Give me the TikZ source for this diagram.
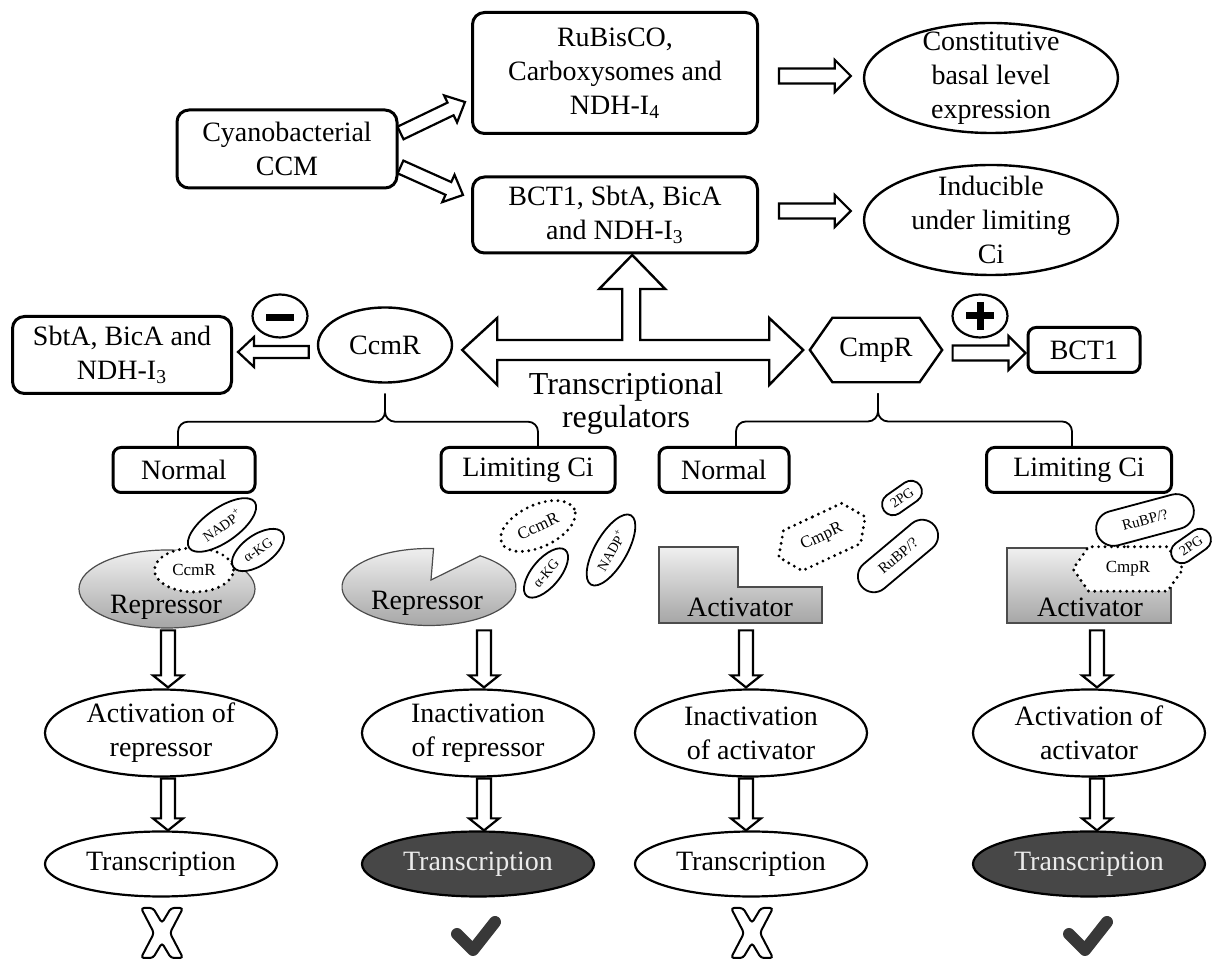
\documentclass[tikz,border=0pt]{standalone}
\usepackage{fontspec}
\setmainfont{Liberation Serif}
\usetikzlibrary{shapes.geometric, shapes.misc, shapes.symbols, calc, positioning}

\newcommand{\txtfont}{\fontsize{14}{17}\selectfont}
\newcommand{\regfont}{\fontsize{16}{16.5}\selectfont}
\newcommand{\molfont}{\fontsize{8.5}{9}\selectfont}
\newcommand{\tagfont}{\fontsize{7}{7.5}\selectfont}

% hollow block arrow: from, to, half shaft, half head, head length
\newcommand{\fatarrow}[5]{%
  \draw[fatarr] let \p1=(#1), \p2=(#2), \n1={atan2(\y2-\y1,\x2-\x1)}, \n2={veclen(\x2-\x1,\y2-\y1)} in
    [shift={(\p1)}, rotate=\n1] (0pt,-#3) -- (\n2-#5,-#3) -- (\n2-#5,-#4) -- (\n2,0pt)
    -- (\n2-#5,#4) -- (\n2-#5,#3) -- (0pt,#3) -- cycle;}

\begin{document}
\begin{tikzpicture}[
    x=0.5pt, y=-0.5pt,
    every node/.style={font=\txtfont, inner sep=2pt},
    box/.style={draw, rounded corners=6pt, line width=1.5pt, align=center},
    smallbox/.style={box, rounded corners=4pt, minimum height=22.5pt},
    oval/.style={draw, ellipse, line width=1.2pt, align=center, inner sep=0pt},
    fatarr/.style={draw, fill=white, line width=1.1pt, line join=miter},
    brace/.style={draw, line width=0.9pt, rounded corners=5pt},
    hexa/.style={draw, signal, signal to=west and east, signal pointer angle=110},
    dotline/.style={draw, fill=white, line width=1.6pt, dash pattern=on 0pt off 3.2pt, line cap=round},
    tag/.style={draw, fill=white, line width=0.9pt, inner sep=0pt, font=\tagfont},
    greyfill/.style={draw=black!70, line width=0.6pt, top color=black!6, bottom color=black!35},
    result/.style={oval, line width=1.1pt, minimum width=116pt, minimum height=43.5pt},
    trans/.style={oval, line width=1.1pt, minimum width=116pt, minimum height=32.5pt},
    transon/.style={trans, fill=black!72, text=black!8},
    nomark/.style={draw, fill=white, line width=1pt, rounded corners=1.5pt},
    yesmark/.style={draw=black!78, line width=6pt, line cap=round, line join=round}
]
\useasboundingbox (0,0) rectangle (1217,961);

% top part
\node[box, minimum width=110pt, minimum height=39pt] (ccm) at (287,149) {Cyanobacterial\\CCM};
\node[box, minimum width=142.5pt, minimum height=60.5pt] (rub) at (615,73) {RuBisCO,\\Carboxysomes and\\NDH-I\textsubscript{4}};
\node[box, minimum width=142.5pt, minimum height=38pt] (bct) at (615,215) {BCT1, SbtA, BicA\\and NDH-I\textsubscript{3}};
\node[oval, inner sep=-5pt, minimum width=127pt, minimum height=55pt] (cons) at (991,78) {Constitutive\\basal level\\expression};
\node[oval, inner sep=-5pt, minimum width=127pt, minimum height=55pt] (indu) at (991,220) {Inducible\\under limiting\\Ci};

\fatarrow{$(ccm.east)+(2,-16)$}{$(rub.south west)+(-6,-33)$}{3.5pt}{7.5pt}{8pt}
\fatarrow{$(ccm.east)+(2,18)$}{$(bct.west)+(-8,-20)$}{3.5pt}{7.5pt}{8pt}
\fatarrow{$(rub.east)+(20,3)$}{$(cons.west)+(-12,-2)$}{3.75pt}{8pt}{8pt}
\fatarrow{$(bct.east)+(20,-4)$}{$(indu.west)+(-12,-9)$}{3.75pt}{8pt}{8pt}

% regulators
\node[oval, minimum width=67pt, minimum height=37.5pt] (ccmr) at (385,345) {CcmR};
\node[hexa, line width=1.2pt, inner xsep=3.5pt, inner ysep=10pt] (cmpr) at (876,350) {CmpR};
\node[box, minimum width=109.5pt, minimum height=38.5pt] (sbta) at (122,355) {SbtA, BicA and\\NDH-I\textsubscript{3}};
\node[smallbox, minimum width=56pt] (bcta) at (1084,350) {BCT1};
\node[draw, ellipse, line width=1.1pt, minimum width=27.5pt, minimum height=21.5pt] (minus) at (280,316) {};
\node[draw, ellipse, line width=1.1pt, minimum width=27.5pt, minimum height=21.5pt] (plus) at (980,316) {};
\draw[line width=3.5pt] ($(minus)+(-14,2)$) -- ($(minus)+(14,2)$);
\draw[line width=3.5pt] ($(plus)+(-14,0)$) -- ($(plus)+(14,0)$)
  ($(plus)+(0,-14)$) -- ($(plus)+(0,14)$);
\node[align=center, font=\regfont] (treg) at (626,403) {Transcriptional\\regulators};

\fatarrow{$(ccmr.west)+(-8,7)$}{$(sbta.east)+(5,-3)$}{3pt}{7.5pt}{8pt}
\fatarrow{$(cmpr.east)+(9,3)$}{$(bcta.west)+(-1,3)$}{3.75pt}{8.5pt}{8.5pt}

\coordinate (tl) at ($(ccmr.east)+(9,5)$);
\draw[fatarr, line width=1.2pt] (tl) -- ++(35,-32) -- ++(0,22) -- ++(125,0) -- ++(0,-51) -- ++(-23,0)
  -- ++(33,-34) -- ++(33,34) -- ++(-25,0) -- ++(0,51) -- ++(129,0) -- ++(0,-22) -- ++(34,32)
  -- ++(-34,35) -- ++(0,-25) -- ++(-272,0) -- ++(0,25) -- cycle;

% conditions
\node[smallbox, minimum width=71pt] (norm1) at (184,470) {Normal};
\node[smallbox, minimum width=87pt] (lim1) at (528,470) {Limiting Ci};
\node[smallbox, minimum width=65pt] (norm2) at (724,470) {Normal};
\node[smallbox, minimum width=92.5pt] (lim2) at (1079,470) {Limiting Ci};

\draw[brace] ($(norm1.north)+(-6,0)$) |- ($(ccmr.south)+(0,38)$) -- ($(ccmr.south)+(0,10)$);
\draw[brace] ($(lim1.north)+(10,0)$) |- ($(ccmr.south)+(0,38)$) -- ($(ccmr.south)+(0,10)$);
\draw[brace] ($(norm2.north)+(12,0)$) |- ($(cmpr.south)+(2,38)$) -- ($(cmpr.south)+(2,10)$);
\draw[brace] ($(lim2.north)+(-7,0)$) |- ($(cmpr.south)+(2,38)$) -- ($(cmpr.south)+(2,10)$);

% CcmR, normal
\node[ellipse, greyfill, minimum width=88pt, minimum height=39pt] (rep1) at (167,589) {};
\node (rep1t) at (166,607) {Repressor};
\node[dotline, ellipse, inner sep=0pt, minimum width=39.5pt, minimum height=22pt, font=\molfont] (ccmr1) at (194,570) {CcmR};
\node[tag, ellipse, rotate=35, minimum width=40pt, minimum height=17pt] (nadp1) at (222,525) {NADP\textsuperscript{+}};
\node[tag, ellipse, rotate=35, minimum width=30pt, minimum height=15pt] (akg1) at (258,550) {α-KG};

% CcmR, limiting
\coordinate (rep2) at (429,587);
\draw[greyfill] ($(rep2)+(87:43.5pt and 19.25pt)$) arc[start angle=87, end angle=414, x radius=43.5pt, y radius=19.25pt]
  -- ($(rep2)+(2,-7)$) -- cycle;
\node (rep2t) at (427,603) {Repressor};
\node[dotline, ellipse, rotate=25, inner sep=0pt, minimum width=40pt, minimum height=21pt, font=\molfont] (ccmr2) at (538,526) {CcmR};
\node[tag, ellipse, rotate=50, minimum width=30pt, minimum height=14pt] (akg2) at (546,573) {α-KG};
\node[tag, ellipse, rotate=60, minimum width=40pt, minimum height=16pt] (nadp2) at (611,550) {NADP\textsuperscript{+}};

% CmpR, normal
\coordinate (act1) at (659,547);
\draw[greyfill] (act1) -- ++(79,0) -- ++(0,40) -- ++(84,0) -- ++(0,36) -- ++(-163,0) -- cycle;
\node (act1t) at (740,607) {Activator};
\node[hexa, dotline, rotate=25, inner xsep=5pt, inner ysep=7.4pt, font=\molfont] (cmpr1) at (822,537) {CmpR};
\node[tag, rounded rectangle, rotate=35, minimum width=22pt, minimum height=11pt] (pg1) at (902,498) {2PG};
\node[tag, rounded rectangle, rotate=40, minimum width=47.5pt, minimum height=16pt, font=\fontsize{7.5}{8}\selectfont] (rubp1) at (898,556) {RuBP/?};

% CmpR, limiting
\coordinate (act2) at (1007,548);
\draw[greyfill] (act2) -- ++(81,0) -- ++(0,40) -- ++(83,0) -- ++(0,35) -- ++(-164,0) -- cycle;
\node (act2t) at (1090,607) {Activator};
\node[tag, rounded rectangle, rotate=15, minimum width=50pt, minimum height=17.5pt, font=\fontsize{7.5}{8}\selectfont] (rubp2) at (1145,520) {RuBP/?};
\node[hexa, dotline, inner xsep=8.6pt, inner ysep=7.4pt, font=\molfont] (cmpr2) at (1128,569) {CmpR};
\node[tag, rounded rectangle, rotate=35, minimum width=22pt, minimum height=11pt] (pg2) at (1191,546) {2PG};

% outcomes
\node[result] (res1) at (161,733) {Activation of\\repressor};
\node[result] (res2) at (478,733) {Inactivation\\of repressor};
\node[result] (res3) at (751,733) {Inactivation\\of activator};
\node[result] (res4) at (1089,733) {Activation of\\activator};
\node[trans] (tr1) at (161,864) {Transcription};
\node[transon] (tr2) at (478,864) {Transcription};
\node[trans] (tr3) at (751,864) {Transcription};
\node[transon] (tr4) at (1089,864) {Transcription};

\foreach \k/\dd in {1/7, 2/6, 3/-5, 4/8} {
  \fatarrow{$(res\k.north)+(\dd,-58)$}{$(res\k.north)+(\dd,-1)$}{3.5pt}{7.5pt}{6pt}
  \fatarrow{$(res\k.south)+(\dd,1)$}{$(tr\k.north)+(\dd,0)$}{3.5pt}{7.5pt}{6pt}
}

\coordinate (no1) at (162,933);
\coordinate (ok1) at (476,933);
\coordinate (no2) at (752,933);
\coordinate (ok2) at (1088,933);
\foreach \m in {no1,no2}
  \draw[nomark] (\m) ++(-21,-25) -- ++(12,0) -- ++(9,15) -- ++(9,-15) -- ++(12,0) -- ++(-13,25)
    -- ++(13,25) -- ++(-12,0) -- ++(-9,-15) -- ++(-9,15) -- ++(-12,0) -- ++(13,-25) -- cycle;
\foreach \m in {ok1,ok2}
  \draw[yesmark] (\m) ++(-19,1) -- ++(16,16) -- ++(22,-28);
\end{tikzpicture}
\end{document}
